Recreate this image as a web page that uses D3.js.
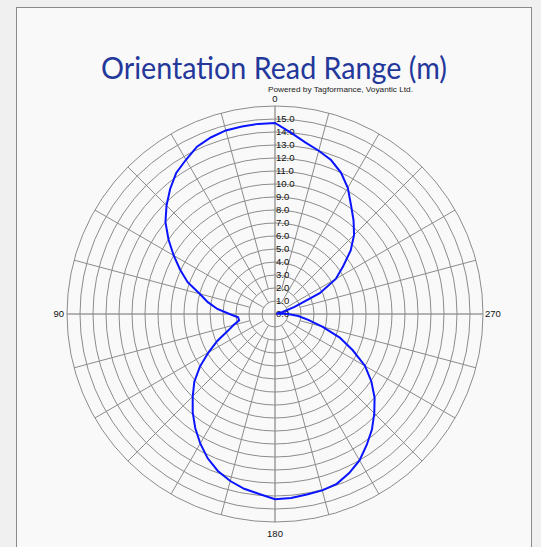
<!DOCTYPE html>
<html lang="en">
<head>
  <meta charset="UTF-8">
  <title>Orientation Read Range</title>
  <style>
    body { margin: 0; background: #f0f0f0; }
  </style>
</head>
<body>
  <script src="https://d3js.org/d3.v7.min.js"></script>
  <script>

  // angle in degrees, counter-clockwise from the top (0 = up, 90 = left)
  const angles = [0, 5, 10, 15, 20, 25, 30, 35, 40, 45, 50, 55, 60, 65, 70, 75, 80, 85,
                  90, 95, 100, 105, 110, 115, 120, 125, 130, 135, 140, 145, 150, 155, 160, 165, 170, 175,
                  180, 185, 190, 195, 200, 205, 210, 215, 220, 225, 230, 235, 240, 245, 250, 255, 260, 265,
                  270, 275, 280, 285, 290, 295, 300, 305, 310, 315, 320, 325, 330, 335, 340, 345, 350, 355];
  // read range in metres
  const readRange = [14.7, 14.68, 14.65, 14.62, 14.45, 14.2, 13.7, 13.25, 12.55, 11.8, 11.0, 10.0, 9.0, 8.05, 7.15, 6.0, 5.25, 4.45,
                     3.5, 2.85, 2.8, 3.3, 3.9, 4.9, 5.9, 7.05, 8.1, 8.95, 9.85, 10.7, 11.5, 12.25, 12.85, 13.3, 13.65, 13.9,
                     14.25, 14.2, 14.1, 14.05, 13.9, 13.5, 13.0, 12.3, 11.6, 10.8, 10.0, 9.05, 8.0, 6.6, 5.3, 3.8, 2.6, 1.8,
                     1.0, 0.4, 0.1, 0.6, 1.6, 3.8, 5.4, 6.4, 7.6, 8.6, 9.4, 10.2, 11.2, 12.0, 12.6, 13.0, 13.4, 14.0];

  const ringValues = d3.range(1, 17);        // grid circles, 1 m apart
  const ringLabels = d3.range(0, 16);        // 0.0 .. 15.0 printed up the 0 axis
  const spokeAngles = d3.range(0, 360, 15);
  const compassLabels = [0, 90, 180, 270];

  const width = 541;
  const height = 547;
  const cx = 275, cy = 314;
  const outerR = 208;

  const svg = d3.select("body")
                .append("svg")
                  .attr("width", width)
                  .attr("height", height)
                  .style("display", "block");

  // frame
  svg.append("rect")
     .attr("x", 16.5)
     .attr("y", 7.5)
     .attr("width", 515)
     .attr("height", 560)
     .attr("fill", "#f9f9f9")
     .attr("stroke", "#8a8a8a");

  // title + credit
  svg.append("text")
     .attr("x", 274)
     .attr("y", 79)
     .attr("text-anchor", "middle")
     .attr("textLength", 346)
     .attr("lengthAdjust", "spacingAndGlyphs")
     .style("font-family", "Lato, 'Open Sans', sans-serif")
     .style("font-size", "30px")
     .style("fill", "#23389a")
     .text("Orientation Read Range (m)");

  svg.append("text")
     .attr("x", 268)
     .attr("y", 92)
     .attr("textLength", 145)
     .attr("lengthAdjust", "spacingAndGlyphs")
     .style("font-family", "'Liberation Sans', sans-serif")
     .style("font-size", "7.5px")
     .style("fill", "#222")
     .text("Powered by Tagformance, Voyantic Ltd.");

  const r = d3.scaleLinear()
              .domain([0, 16])
              .range([0, outerR]);

  const g = svg.append("g")
               .attr("transform", "translate(" + cx + "," + cy + ")");

  // spokes (start a little off the centre like the original grid)
  function toXY(deg, val) {
    const a = deg * Math.PI / 180;
    return [-Math.sin(a) * r(val), -Math.cos(a) * r(val)];
  }

  g.append("g")
    .selectAll("line")
    .data(spokeAngles)
    .enter()
    .append("line")
      .attr("x1", d => toXY(d, d % 90 === 0 ? 0 : (d % 30 === 0 ? 1 : 2))[0])
      .attr("y1", d => toXY(d, d % 90 === 0 ? 0 : (d % 30 === 0 ? 1 : 2))[1])
      .attr("x2", d => toXY(d, 16)[0])
      .attr("y2", d => toXY(d, 16)[1])
      .attr("stroke", d => d % 90 === 0 ? "#6e6e6e" : "#8c8c8c")
      .attr("stroke-width", 1);

  // rings
  g.append("g")
    .selectAll("circle")
    .data(ringValues)
    .enter()
    .append("circle")
      .attr("r", d => r(d))
      .attr("fill", "none")
      .attr("stroke", "#8c8c8c")
      .attr("stroke-width", 1);

  // ring value labels along the 0 axis
  g.append("g")
    .selectAll("text")
    .data(ringLabels)
    .enter()
    .append("text")
      .attr("x", 1)
      .attr("y", d => -r(d))
      .attr("dy", "0.35em")
      .style("font-family", "'Liberation Sans', sans-serif")
      .style("font-size", "9.5px")
      .style("fill", "#111")
      .text(d => d.toFixed(1));

  // compass labels
  g.append("g")
    .selectAll("text")
    .data(compassLabels)
    .enter()
    .append("text")
      .attr("x", d => d === 90 ? -outerR - 3 : (d === 270 ? outerR + 2 : 0))
      .attr("y", d => d === 0 ? -outerR - 7 : (d === 180 ? outerR + 12 : 0))
      .attr("dy", "0.35em")
      .attr("text-anchor", d => d === 90 ? "end" : (d === 270 ? "start" : "middle"))
      .style("font-family", "'Liberation Sans', sans-serif")
      .style("font-size", "9.5px")
      .style("fill", "#111")
      .text(d => d);

  // read range curve
  const points = angles.map((a, i) => [a, readRange[i]]);

  const line = d3.lineRadial()
                 .angle(d => -d[0] * Math.PI / 180)
                 .radius(d => r(d[1]))
                 .curve(d3.curveLinearClosed);

  g.append("path")
    .datum(points)
    .attr("d", line)
    .attr("fill", "none")
    .attr("stroke", "#0a14ff")
    .attr("stroke-width", 2);

  </script>
</body>
</html>
